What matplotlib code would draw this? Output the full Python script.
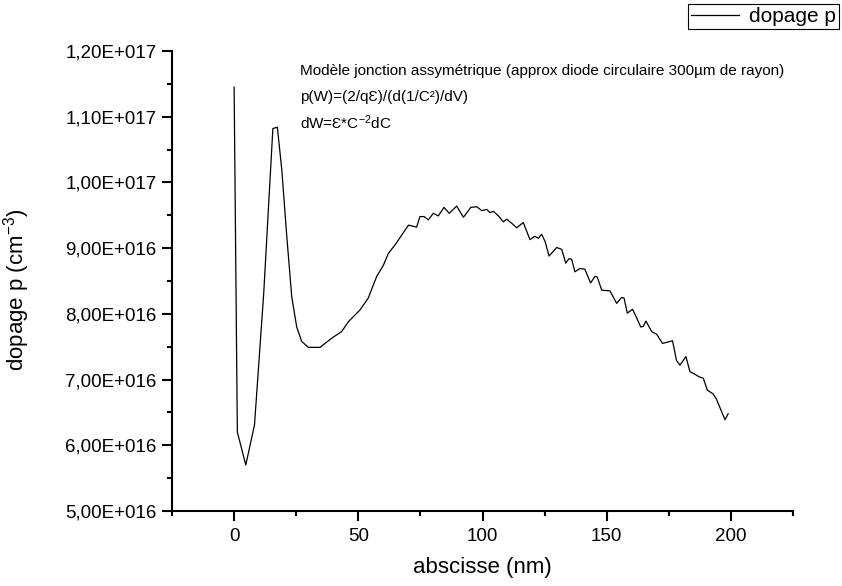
import matplotlib
matplotlib.use("Agg")
import matplotlib.pyplot as plt
from matplotlib.ticker import MultipleLocator, FuncFormatter

plt.rcParams['font.family'] = ['Liberation Sans', 'DejaVu Sans']
plt.rcParams['mathtext.fontset'] = 'custom'
plt.rcParams['mathtext.rm'] = 'Liberation Sans'
plt.rcParams['mathtext.default'] = 'regular'

# abscisse (nm)
x = [0.0, 1.3, 4.7, 8.2, 11.9, 15.6, 17.4, 19.2, 21.2, 23.2, 25.2, 27.2, 29.9, 34.6,
     39.3, 43.3, 46.0, 50.7, 54.0, 57.4, 60.1, 62.1, 64.8, 67.5, 70.2, 73.5, 74.8,
     76.5, 78.2, 80.2, 82.2, 84.5, 86.6, 89.6, 92.3, 95.3, 97.7, 99.7, 101.7, 103.0,
     104.4, 106.4, 108.4, 109.7, 111.7, 113.8, 116.4, 119.1, 121.1, 122.5, 123.8,
     125.2, 126.8, 129.9, 131.9, 133.5, 134.8, 135.9, 137.2, 139.2, 141.2, 143.5,
     145.3, 146.2, 148.0, 151.3, 154.0, 156.0, 157.0, 158.3, 160.4, 161.8, 163.7,
     164.7, 165.8, 168.1, 170.1, 172.5, 176.5, 178.1, 179.5, 181.9, 183.5, 185.1,
     187.3, 188.9, 190.5, 192.9, 194.2, 197.6, 198.9]

# dopage p (cm-3)
p = [1.145e17, 6.20e16, 5.70e16, 6.31e16, 8.30e16, 1.082e17, 1.084e17, 1.019e17,
     9.18e16, 8.26e16, 7.80e16, 7.58e16, 7.49e16, 7.49e16, 7.63e16, 7.73e16, 7.88e16,
     8.06e16, 8.24e16, 8.57e16, 8.74e16, 8.92e16, 9.05e16, 9.20e16, 9.35e16, 9.32e16,
     9.48e16, 9.48e16, 9.43e16, 9.53e16, 9.49e16, 9.62e16, 9.53e16, 9.64e16, 9.47e16,
     9.62e16, 9.63e16, 9.57e16, 9.59e16, 9.54e16, 9.56e16, 9.49e16, 9.40e16, 9.44e16,
     9.38e16, 9.31e16, 9.39e16, 9.13e16, 9.18e16, 9.15e16, 9.21e16, 9.10e16, 8.88e16,
     9.01e16, 8.98e16, 8.77e16, 8.84e16, 8.83e16, 8.64e16, 8.69e16, 8.68e16, 8.47e16,
     8.57e16, 8.56e16, 8.36e16, 8.35e16, 8.16e16, 8.25e16, 8.24e16, 8.01e16, 8.07e16,
     7.96e16, 7.80e16, 7.81e16, 7.89e16, 7.73e16, 7.69e16, 7.55e16, 7.59e16, 7.29e16,
     7.22e16, 7.35e16, 7.12e16, 7.09e16, 7.04e16, 7.02e16, 6.84e16, 6.78e16, 6.70e16,
     6.39e16, 6.48e16]

notes = ["Modèle jonction assymétrique (approx diode circulaire 300µm de rayon)",
         "p(W)=(2/qƐ)/(d(1/C²)/dV)",
         "dW=Ɛ*C$^{-2}$dC"]


def sci_fmt(v, pos):
    m, e = "{:.2E}".format(v).split("E")
    return m.replace(".", ",") + "E" + e[0] + e[1:].zfill(3)


fig = plt.figure(figsize=(8.42, 5.86), dpi=100)
ax = fig.add_axes([0.2043, 0.1280, 0.7375, 0.7850])

line, = ax.plot(x, p, color='black', lw=0.9, label='dopage p')

ax.set_xlim(-25, 225)
ax.set_ylim(5e16, 1.2e17)
ax.xaxis.set_major_locator(MultipleLocator(50))
ax.xaxis.set_minor_locator(MultipleLocator(25))
ax.yaxis.set_major_locator(MultipleLocator(1e16))
ax.yaxis.set_minor_locator(MultipleLocator(5e15))
ax.yaxis.set_major_formatter(FuncFormatter(sci_fmt))

for s in ['top', 'right']:
    ax.spines[s].set_visible(False)
for s in ['left', 'bottom']:
    ax.spines[s].set_linewidth(1.5)
ax.tick_params(which='major', direction='out', length=7, width=1.5, labelsize=13.5, pad=4)
ax.tick_params(which='minor', direction='out', length=3.6, width=1.5)
ax.tick_params(axis='x', which='major', pad=5)

ax.set_xlabel('abscisse (nm)', fontsize=16)
ax.set_ylabel('dopage p (cm$^{-3}$)', fontsize=16)
ax.xaxis.set_label_coords(0.5, -0.10)
ax.yaxis.set_label_coords(-0.226, 0.48)

ys = [71, 97, 123]
for t, yy in zip(notes, ys):
    fig.text(300 / 842, 1 - yy / 586, t, fontsize=11, va='center', ha='left')

leg = fig.legend(handles=[line], loc='upper right', bbox_to_anchor=(839 / 842, 1 - 4 / 586),
                 fontsize=15, frameon=True, fancybox=False, edgecolor='black', framealpha=1,
                 borderpad=0.15, handlelength=2.3, handletextpad=0.5, borderaxespad=0)
leg.get_frame().set_linewidth(0.8)

fig.savefig('out.png', dpi=100)
